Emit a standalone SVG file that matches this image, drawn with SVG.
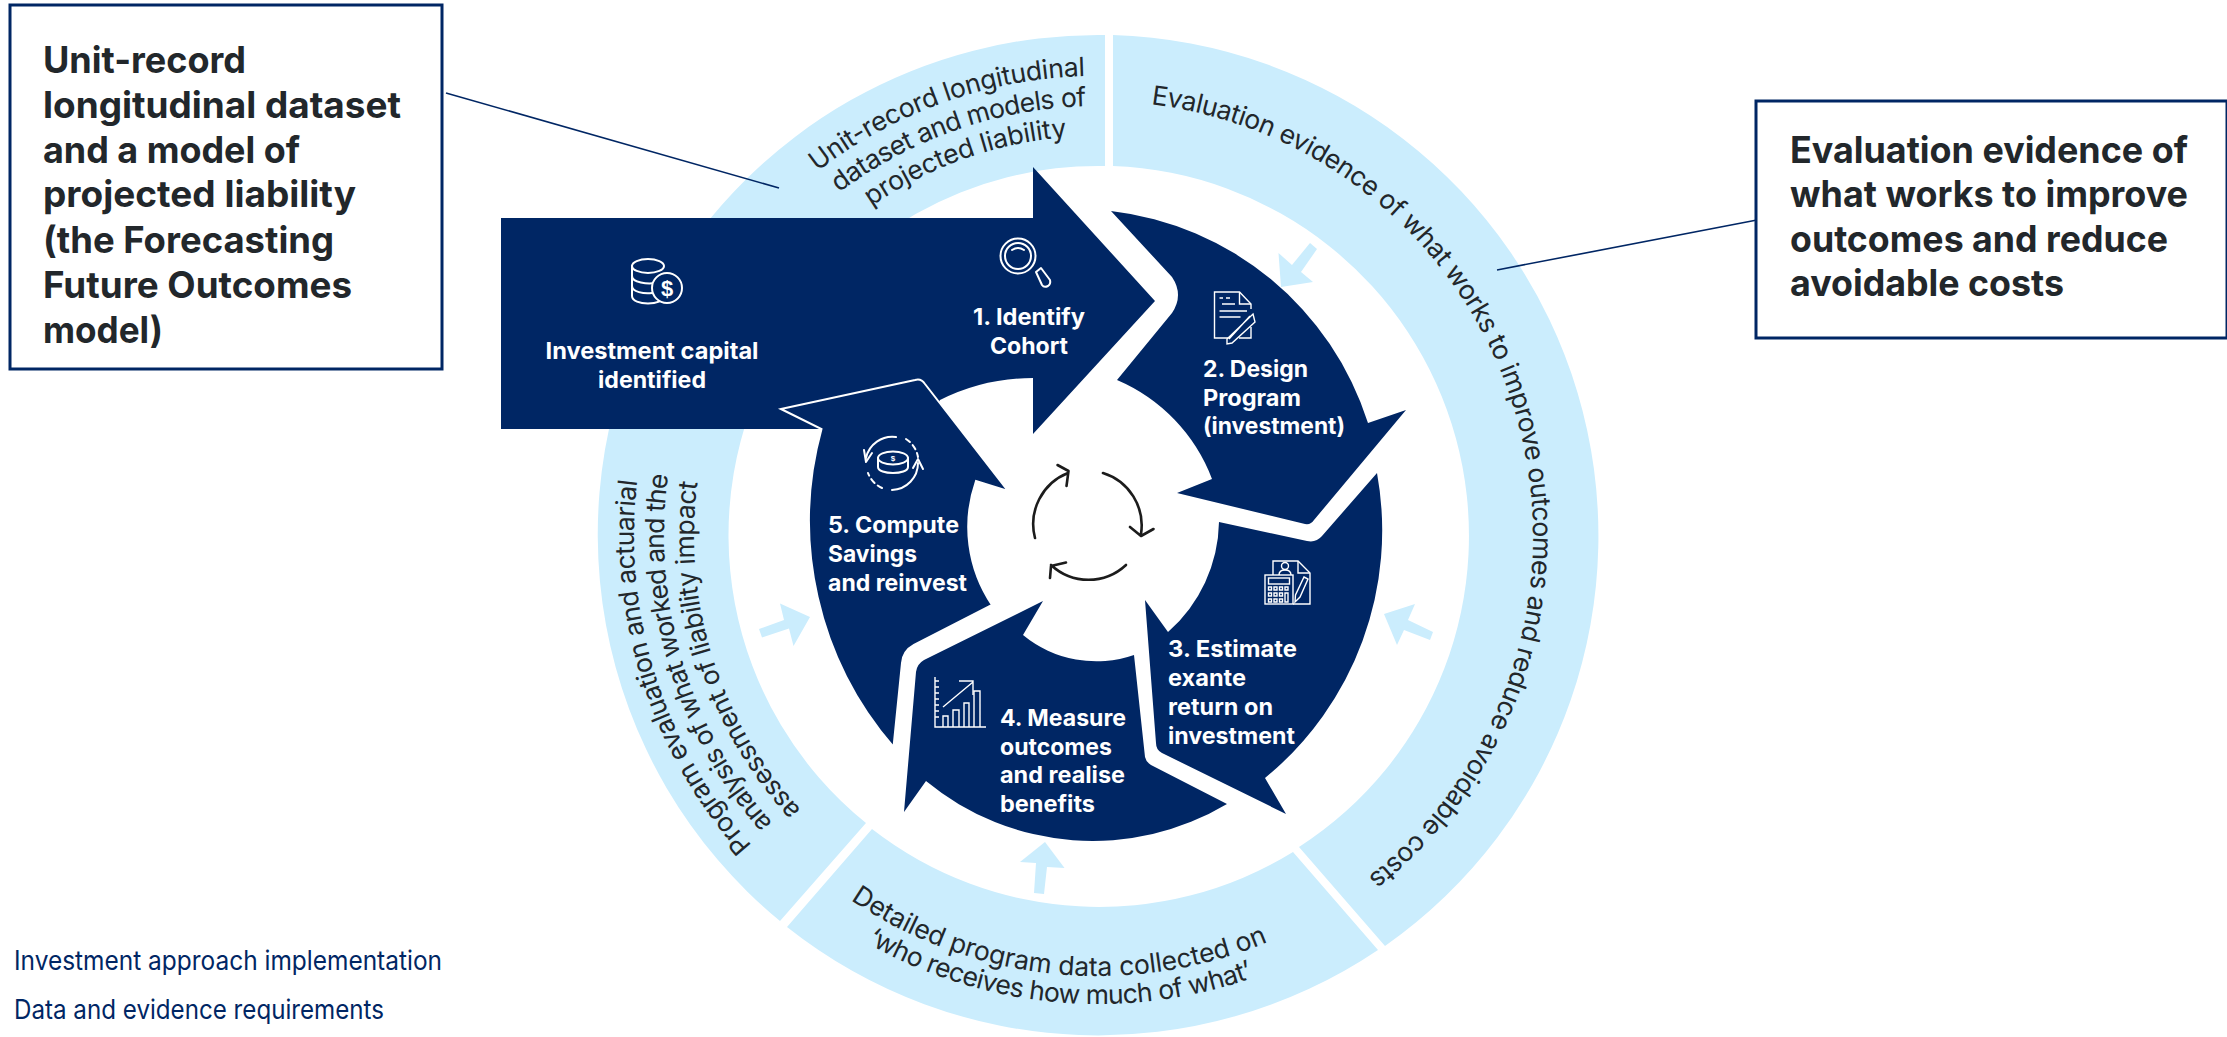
<svg xmlns="http://www.w3.org/2000/svg" width="2227" height="1037" viewBox="0 0 2227 1037">
<style>
.ring{fill:#cbedfd}
.navy{fill:#002664}
.box{fill:#fff;stroke:#002664;stroke-width:3}
.lead{fill:none;stroke:#002664;stroke-width:1.6}
.t{font-family:Inter,"Liberation Sans",sans-serif}
.rt{font-size:26.5px;fill:#22272b;font-weight:400}
.bt{font-size:37px;fill:#22272b;font-weight:700}
.wt{font-size:23px;fill:#fff;font-weight:700}
.lg{font-size:26.5px;fill:#002664;font-weight:400}
.ic{fill:none;stroke:#fff;stroke-width:2;stroke-linecap:round;stroke-linejoin:round}
.ith{fill:none;stroke:#fff;stroke-width:1.4;stroke-linejoin:miter}
.cy{fill:none;stroke:#1c1c1c;stroke-width:2.6;stroke-linecap:round;stroke-linejoin:round}
</style>
<defs>
<path id="p1" d="M817.4,171.5 A460 460 0 0 1 1085,76"/>
<path id="p2" d="M839.2,192.6 A430 430 0 0 1 1086,106.2"/>
<path id="p3" d="M871.4,206.4 A400 400 0 0 1 1067.3,137"/>
<path id="p4" d="M1151,104.3 A435 435 0 0 1 1368.2,877"/>
<path id="p5" d="M850.7,899.9 A440 440 0 0 0 1267.8,941.9"/>
<path id="p6" d="M866.8,942.9 A468 468 0 0 0 1253.4,977.5"/>
<path id="p7" d="M752.1,845.3 A464 464 0 0 1 637.2,481.1"/>
<path id="p8" d="M772.5,823 A434 434 0 0 1 668.3,474.8"/>
<path id="p9" d="M801.1,809.9 A404 404 0 0 1 697.6,481.9"/>
</defs>

<g id="ring">
<path id="seg-data" class="ring" d="M664,285.5 A501 501 0 0 1 1105,35 L1105,166 A370 370 0 0 0 777.6,351 Z"/>
<path id="seg-evidence" class="ring" d="M1113,35 A501 501 0 0 1 1385,946 L1299,847 A370 370 0 0 0 1113,166 Z"/>
<path id="seg-program" class="ring" d="M787,927 A501 501 0 0 0 1378,950 L1293,852 A370 370 0 0 1 872,829 Z"/>
<path id="seg-eval" class="ring" d="M780,921 A501 501 0 0 1 664,285.5 L777.6,351 A370 370 0 0 0 866,823 Z"/>
<text class="t rt"><textPath href="#p1" textLength="289">Unit-record longitudinal</textPath></text>
<text class="t rt"><textPath href="#p2" textLength="266">dataset and models of</textPath></text>
<text class="t rt"><textPath href="#p3" textLength="210">projected liability</textPath></text>
<text class="t rt"><textPath href="#p4" textLength="1022">Evaluation evidence of what works to improve outcomes and reduce avoidable costs</textPath></text>
<text class="t rt"><textPath href="#p5" textLength="437">Detailed program data collected on</textPath></text>
<text class="t rt"><textPath href="#p6" textLength="400">‘who receives how much of what’</textPath></text>
<text class="t rt"><textPath href="#p7" textLength="394">Program evaluation and actuarial</textPath></text>
<text class="t rt"><textPath href="#p8" textLength="375">analysis of what worked and the</textPath></text>
<text class="t rt"><textPath href="#p9" textLength="355">assessment of liability impact</textPath></text>
</g>

<g id="connectors">
<path class="lead" d="M446,93 L779,188"/>
<path class="lead" d="M1497,270 L1757,220"/>
<polygon class="ring" points="1310,243 1317,249 1301,272 1313,282 1281,287 1278.5,253 1292,265"/>
<polygon class="ring" points="1433,632 1430,640 1404,630 1397,645 1384,614 1415,604 1408,620"/>
<polygon class="ring" points="1045,842 1064.5,868 1047,867 1044,894 1034,893 1036,863 1020,862"/>
<polygon class="ring" points="759,629 762,637.5 789,628.6 793.5,646 810,617 780,603.6 784,620"/>
</g>

<g id="box-data">
<rect class="box" x="10" y="5" width="432" height="364"/>
<text class="t bt" x="43" y="73" textLength="203" lengthAdjust="spacingAndGlyphs">Unit-record</text>
<text class="t bt" x="43" y="118" textLength="358" lengthAdjust="spacingAndGlyphs">longitudinal dataset</text>
<text class="t bt" x="43" y="163" textLength="257" lengthAdjust="spacingAndGlyphs">and a model of</text>
<text class="t bt" x="43" y="207" textLength="313" lengthAdjust="spacingAndGlyphs">projected liability</text>
<text class="t bt" x="43" y="253" textLength="291" lengthAdjust="spacingAndGlyphs">(the Forecasting</text>
<text class="t bt" x="43" y="298" textLength="309" lengthAdjust="spacingAndGlyphs">Future Outcomes</text>
<text class="t bt" x="43" y="343" textLength="120" lengthAdjust="spacingAndGlyphs">model)</text>
</g>

<g id="box-evidence">
<rect class="box" x="1756" y="101" width="471" height="237"/>
<text class="t bt" x="1790" y="163" textLength="398" lengthAdjust="spacingAndGlyphs">Evaluation evidence of</text>
<text class="t bt" x="1790" y="207" textLength="398" lengthAdjust="spacingAndGlyphs">what works to improve</text>
<text class="t bt" x="1790" y="252" textLength="378" lengthAdjust="spacingAndGlyphs">outcomes and reduce</text>
<text class="t bt" x="1790" y="296" textLength="274" lengthAdjust="spacingAndGlyphs">avoidable costs</text>
</g>

<g id="step-1">
<path class="navy" d="M501,218 L1033,218 L1033,167 L1155,301 L1033,434 L1033,378 A207 207 0 0 0 940,400 L925,429 L501,429 Z"/>
<text class="t wt" x="545.500" y="359" textLength="213" lengthAdjust="spacingAndGlyphs">Investment capital</text>
<text class="t wt" x="598" y="388" textLength="108" lengthAdjust="spacingAndGlyphs">identified</text>
<text class="t wt" x="973" y="325" textLength="112" lengthAdjust="spacingAndGlyphs">1. Identify</text>
<text class="t wt" x="990" y="354" textLength="78" lengthAdjust="spacingAndGlyphs">Cohort</text>
<g class="ic">
<path d="M632,266 V296 C632,306 664,306 664,296"/>
<ellipse cx="648" cy="266" rx="16" ry="7"/>
<path d="M632,276 C632,283 648,284 655,283 M632,286 C632,292 644,294 652,293"/>
<circle cx="667" cy="288" r="15" fill="#002664"/>
<text x="667" y="296" text-anchor="middle" style="font:700 22px 'Liberation Sans',sans-serif;fill:#fff;stroke:none">$</text>
<circle cx="1018" cy="256" r="17.5"/>
<circle cx="1018" cy="256" r="13"/>
<path d="M1012,250 Q1018,246 1024,250"/>
<path d="M1036,272 L1041,268 L1050,280 Q1051,284 1048,286 Q1044,288 1042,285 Z"/>
</g>
</g>

<g id="step-2">
<path class="navy" d="M1111,211 A307 307 0 0 1 1368,423 L1406,410 L1314,520 Q1311,525 1305,524 L1177,493 L1212,479 A175 175 0 0 0 1117,380 L1172,313 Q1184,295 1172,277 Z"/>
<text class="t wt" x="1203" y="377" textLength="105" lengthAdjust="spacingAndGlyphs">2. Design</text>
<text class="t wt" x="1203" y="406" textLength="98" lengthAdjust="spacingAndGlyphs">Program</text>
<text class="t wt" x="1203" y="434" textLength="142" lengthAdjust="spacingAndGlyphs">(investment)</text>
<g class="ith">
<path d="M1251,327 V338 H1239 M1228,338 H1214.5 V292 H1239.5 L1251,304 V309"/>
<path d="M1239.5,292 V304 H1251"/>
<path d="M1219.5,298 H1223 M1226,298 H1230 M1222,304 H1235 M1219.5,311 H1247 M1219.5,317 H1240.5"/>
<path d="M1253,314 L1255,322 L1232,343 L1227,344 L1227,339 Z M1250,316 L1229,339"/>
</g>
</g>

<g id="step-3">
<path class="navy" d="M1377,473 A320 320 0 0 1 1265,778 L1286,814 L1162,753 Q1156,750 1156,743 L1145,600 L1168,632 A150 150 0 0 0 1219,522 L1307,541 Q1316,543 1322,536 Z"/>
<text class="t wt" x="1168" y="657" textLength="129" lengthAdjust="spacingAndGlyphs">3. Estimate</text>
<text class="t wt" x="1168" y="686" textLength="78" lengthAdjust="spacingAndGlyphs">exante</text>
<text class="t wt" x="1168" y="715" textLength="105" lengthAdjust="spacingAndGlyphs">return on</text>
<text class="t wt" x="1168" y="744" textLength="127" lengthAdjust="spacingAndGlyphs">investment</text>
<g class="ith">
<path d="M1273,575 V561 H1298 L1310,573 V604 H1293"/>
<path d="M1298,561 V573 H1310"/>
<rect x="1265" y="575" width="28" height="29"/>
<rect x="1268.500" y="578" width="21" height="6"/>
<circle cx="1285" cy="566" r="3.500"/>
<path d="M1279,575 Q1279,570 1285,570 Q1291,570 1291,575"/>
<path d="M1268.500,587 h3 v3 h-3 z M1274,587 h3 v3 h-3 z M1279.500,587 h3 v3 h-3 z M1285,587 h3 v3 h-3 z M1268.500,593 h3 v3 h-3 z M1274,593 h3 v3 h-3 z M1279.500,593 h3 v3 h-3 z M1285,593 h3 v9 h-3 z M1268.500,599 h3 v3 h-3 z M1274,599 h3 v3 h-3 z M1279.500,599 h3 v3 h-3 z"/>
<path d="M1304,577 L1308,579 L1300,597 L1295,602 L1295.500,595 Z"/>
</g>
</g>

<g id="step-4">
<path class="navy" d="M1043,601 L1023,635 A115 115 0 0 0 1134,655 L1145,757 Q1146,762 1151,765 L1227,804 A262 262 0 0 1 926,781 L904,812 L916,672 Q917,664 924,660 Z"/>
<text class="t wt" x="1000" y="726" textLength="126" lengthAdjust="spacingAndGlyphs">4. Measure</text>
<text class="t wt" x="1000" y="755" textLength="112" lengthAdjust="spacingAndGlyphs">outcomes</text>
<text class="t wt" x="1000" y="783" textLength="125" lengthAdjust="spacingAndGlyphs">and realise</text>
<text class="t wt" x="1000" y="812" textLength="95" lengthAdjust="spacingAndGlyphs">benefits</text>
<g class="ith">
<path d="M935,677 V727 H986"/>
<path d="M935,681 h4 M935,687 h4 M935,693 h4 M935,699 h4 M935,705 h4 M935,711 h4 M935,717 h4"/>
<path d="M943,727 V716 H948 V727 M953,727 V710 H959 V727 M964,727 V703 H969 V727 M974,727 V691 H980 V727"/>
<path d="M943,707 L973,682 M959,681 H973 V695"/>
</g>
</g>

<g id="step-5">
<path class="navy" stroke="#fff" stroke-width="2" d="M781,409 L915,380 Q921,378 925,384 L1008,491 L976,481 A140 140 0 0 0 992,605 L914,645 Q903,651 902,663 L893.5,747 A345 345 0 0 1 821.500,429 Z"/>
<text class="t wt" x="828" y="533" textLength="131" lengthAdjust="spacingAndGlyphs">5. Compute</text>
<text class="t wt" x="828" y="562" textLength="89" lengthAdjust="spacingAndGlyphs">Savings</text>
<text class="t wt" x="828" y="591" textLength="139" lengthAdjust="spacingAndGlyphs">and reinvest</text>
<g class="ic">
<ellipse cx="893" cy="458" rx="15" ry="6.500"/>
<path d="M878,458 V467 C878,475 908,475 908,467 V458"/>
<path d="M866,458 A27 27 0 0 1 896,437"/>
<path d="M906,439 A27 27 0 0 1 918,457" stroke-dasharray="5 4"/>
<path d="M918,463 A27 27 0 0 1 892,490"/>
<path d="M882,488 A27 27 0 0 1 868,473" stroke-dasharray="5 4"/>
<path d="M864,450 L866,462 L872,453 M913,468 L918,459 L923,469"/>
<text x="893" y="461" text-anchor="middle" style="font:700 8px 'Liberation Sans',sans-serif;fill:#fff;stroke:none">$</text>
</g>
</g>

<g id="cycle">
<path class="cy" d="M1035,538 A55 55 0 0 1 1068,473 M1057.500,465 L1068.500,471 L1066.500,486"/>
<path class="cy" d="M1103,473 A55 55 0 0 1 1141,534 M1130,527 L1141,536 L1153.500,529"/>
<path class="cy" d="M1126,565 A55 55 0 0 1 1051,565 M1050,578 L1051,566 L1066,562.500"/>
</g>

<g id="legend">
<text class="t lg" x="14" y="970" textLength="428" lengthAdjust="spacingAndGlyphs">Investment approach implementation</text>
<text class="t lg" x="14" y="1019" textLength="370" lengthAdjust="spacingAndGlyphs">Data and evidence requirements</text>
</g>
</svg>
